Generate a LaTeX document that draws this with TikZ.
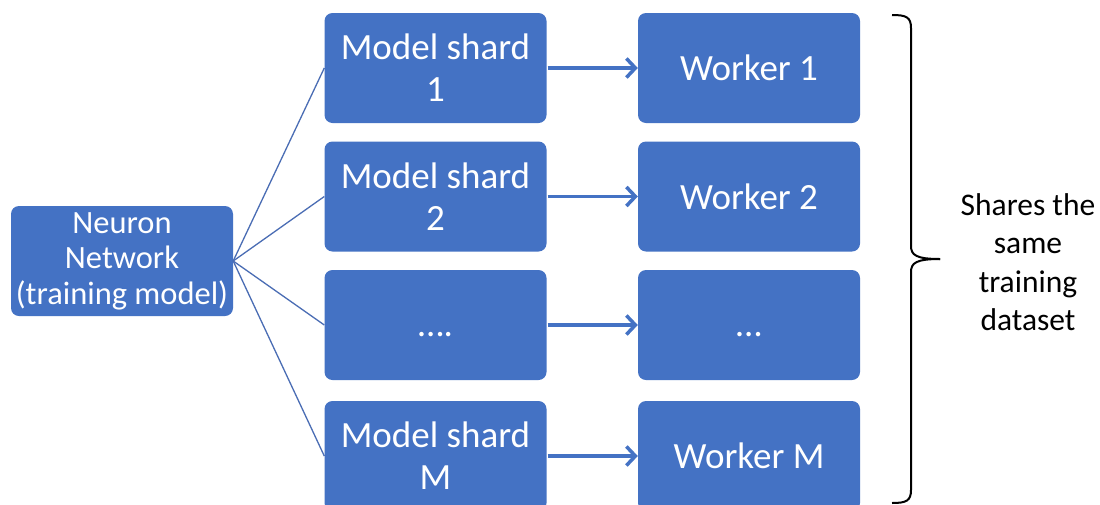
\documentclass[tikz,border=0pt]{standalone}
\usepackage{fontspec}
\setmainfont{Carlito}
\usetikzlibrary{arrows.meta}
\definecolor{boxblue}{HTML}{4472C4}
\definecolor{linkblue}{HTML}{4A6DB4}
\tikzset{
  box/.style={draw=none, fill=boxblue, rounded corners=8pt, text=white,
    minimum width=222pt, minimum height=110pt, align=center, inner sep=0pt,
    font=\fontsize{37}{42}\selectfont},
  srcbox/.style={box, font=\fontsize{32.5}{35.5}\selectfont},
  fan/.style={draw=linkblue, line width=1.3pt},
  feed/.style={draw=boxblue, line width=3.5pt, -{Straight Barb[length=9pt,width=19pt,line width=3.5pt]}},
  bracket/.style={draw=black, line width=2pt},
  note/.style={align=center, text=black, font=\fontsize{31.5}{38.5}\selectfont}
}
\begin{document}
\begin{tikzpicture}[x=1pt,y=-1pt]
  \useasboundingbox (0,0) rectangle (1100,504);
  \fill[white] (0,0) rectangle (1100,504);

  % source model
  \node[srcbox] (net) at (122,261) {Neuron\\Network\\(training model)};

  % model shards
  \node[box] (s1) at (435.5,68)  {Model shard\\1};
  \node[box] (s2) at (435.5,196.5) {Model shard\\2};
  \node[box] (s3) at (435.5,325) {\vphantom{M}….};
  \node[box] (s4) at (435.5,456) {Model shard\\M};

  % workers
  \node[box] (w1) at (749,68)  {Worker 1};
  \node[box] (w2) at (749,196.5) {Worker 2};
  \node[box] (w3) at (749,325) {\vphantom{M}…};
  \node[box] (w4) at (749,456) {Worker M};

  % split of the model into shards
  \foreach \s in {s1,s2,s3,s4}
    \draw[fan] (net.east) -- (\s.west);

  % each shard goes to its worker
  \foreach \i in {1,2,3,4}
    \draw[feed] (s\i.east) ++(1,0) -- (w\i.west);

  % right brace grouping the workers
  \coordinate (btop) at (892,15);
  \coordinate (btip) at (940,259);
  \coordinate (bbot) at (892,503);
  \draw[bracket] (btop) .. controls (906,15) and (911,17) .. (911,28)
    -- (911,246) .. controls (911,255) and (916,259) .. (btip);
  \draw[bracket] (btip) .. controls (916,259) and (911,263) .. (911,272)
    -- (911,490) .. controls (911,501) and (906,503) .. (bbot);

  \node[note] (shared) at (1028,262) {Shares the\\same\\training\\dataset};
\end{tikzpicture}
\end{document}
